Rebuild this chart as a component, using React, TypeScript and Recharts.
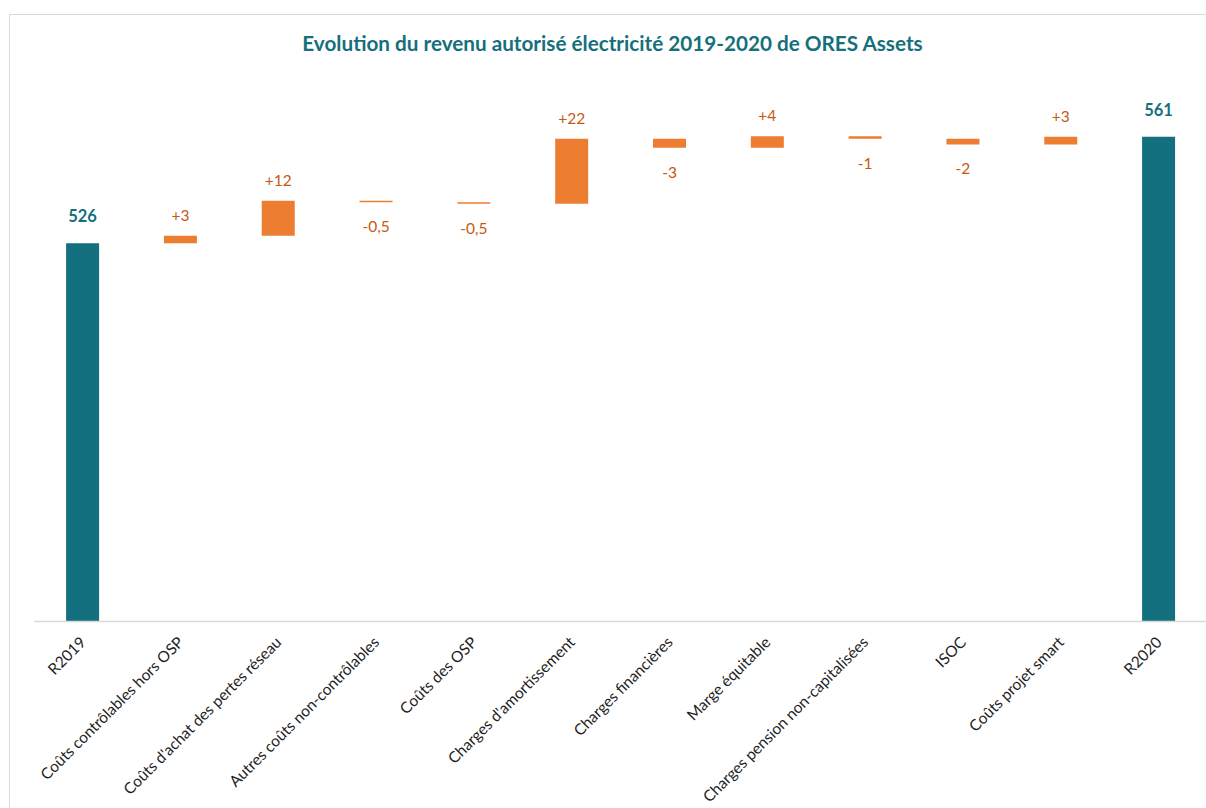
import React from "react";
import { BarChart, Bar, XAxis, YAxis, Cell, LabelList } from "recharts";

const categories = [
  "R2019",
  "Coûts contrôlables hors OSP",
  "Coûts d'achat des pertes réseau",
  "Autres coûts non-contrôlables",
  "Coûts des OSP",
  "Charges d'amortissement",
  "Charges financières",
  "Marge équitable",
  "Charges pension non-capitalisées",
  "ISOC",
  "Coûts projet smart",
  "R2020",
];
const startValue = 525.5;
const deltas = [2.5, 11.6, -0.5, -0.5, 21.6, -3.0, 3.8, -0.8, -1.9, 2.6];
const endValue = 560.9;
const valueLabels = ["526", "+3", "+12", "-0,5", "-0,5", "+22", "-3", "+4", "-1", "-2", "+3", "561"];
const axisMin = 400;
const axisMax = 600;

const TEAL = "#13707E";
const TEAL_TEXT = "#156F7C";
const ORANGE = "#ED7D31";
const ORANGE_TEXT = "#C55A11";
const FONT = "Lato, 'Open Sans', sans-serif";

type Row = { name: string; range: [number, number]; kind: string; label: string };

const data: Row[] = (() => {
  const rows: Row[] = [];
  rows.push({ name: categories[0], range: [axisMin, startValue], kind: "total", label: valueLabels[0] });
  let cur = startValue;
  deltas.forEach((d, i) => {
    const next = cur + d;
    rows.push({
      name: categories[i + 1],
      range: [Math.min(cur, next), Math.max(cur, next)],
      kind: d >= 0 ? "up" : "down",
      label: valueLabels[i + 1],
    });
    cur = next;
  });
  rows.push({ name: categories[categories.length - 1], range: [axisMin, endValue], kind: "total", label: valueLabels[valueLabels.length - 1] });
  return rows;
})();

const renderLabel = (props: any) => {
  const { x, y, width, height, index } = props;
  const row = data[index];
  if (!row) return null;
  const top = Math.min(y, y + height);
  const bottom = Math.max(y, y + height);
  const cx = x + width / 2;
  if (row.kind === "total") {
    return (
      <text x={cx} y={top - 27} textAnchor="middle" dominantBaseline="central" fill={TEAL_TEXT} fontWeight={700} fontSize={16.5} fontFamily={FONT}>
        {row.label}
      </text>
    );
  }
  const ly = row.kind === "up" ? top - 21 : bottom + 24;
  return (
    <text x={cx} y={ly} textAnchor="middle" dominantBaseline="central" fill={ORANGE_TEXT} fontSize={15.5} fontFamily={FONT}>
      {row.label}
    </text>
  );
};

const AxisTick = (props: any) => {
  const { x, y, payload } = props;
  const ty = y + 10;
  return (
    <text x={x} y={ty} transform={`rotate(-45, ${x}, ${ty})`} textAnchor="end" dy="0.35em" fontSize={15.5} fontFamily={FONT} fill="#1F1F1F">
      {payload.value}
    </text>
  );
};

export default function App() {
  return (
    <div style={{ position: "absolute", left: 0, top: 0, width: 1206, height: 808, overflow: "hidden", background: "#fff" }}>
      <div style={{ position: "absolute", left: 9, top: 14, width: 1300, height: 900, border: "1px solid #D9D9D9", boxSizing: "border-box" }} />
      <div
        style={{
          position: "absolute",
          left: 612.5,
          top: 43,
          transform: "translate(-50%, -50%)",
          whiteSpace: "nowrap",
          fontFamily: FONT,
          fontWeight: 700,
          fontSize: 20.7,
          color: TEAL_TEXT,
        }}
      >
        Evolution du revenu autorisé électricité 2019-2020 de ORES Assets
      </div>
      <div style={{ position: "absolute", left: 0, top: 0 }}>
        <BarChart width={1212} height={808} data={data} margin={{ top: 18.8, right: 4.1, bottom: 6.5, left: 34.1 }}>
          <XAxis
            dataKey="name"
            interval={0}
            height={180}
            tickLine={false}
            axisLine={{ stroke: "#D9D9D9", strokeWidth: 1.5 }}
            tick={<AxisTick />}
          />
          <YAxis hide type="number" domain={[axisMin, axisMax]} allowDataOverflow />
          <Bar dataKey="range" barSize={33} isAnimationActive={false}>
            {data.map((r, i) => (
              <Cell key={i} fill={r.kind === "total" ? TEAL : ORANGE} />
            ))}
            <LabelList dataKey="range" content={renderLabel} />
          </Bar>
        </BarChart>
      </div>
    </div>
  );
}
